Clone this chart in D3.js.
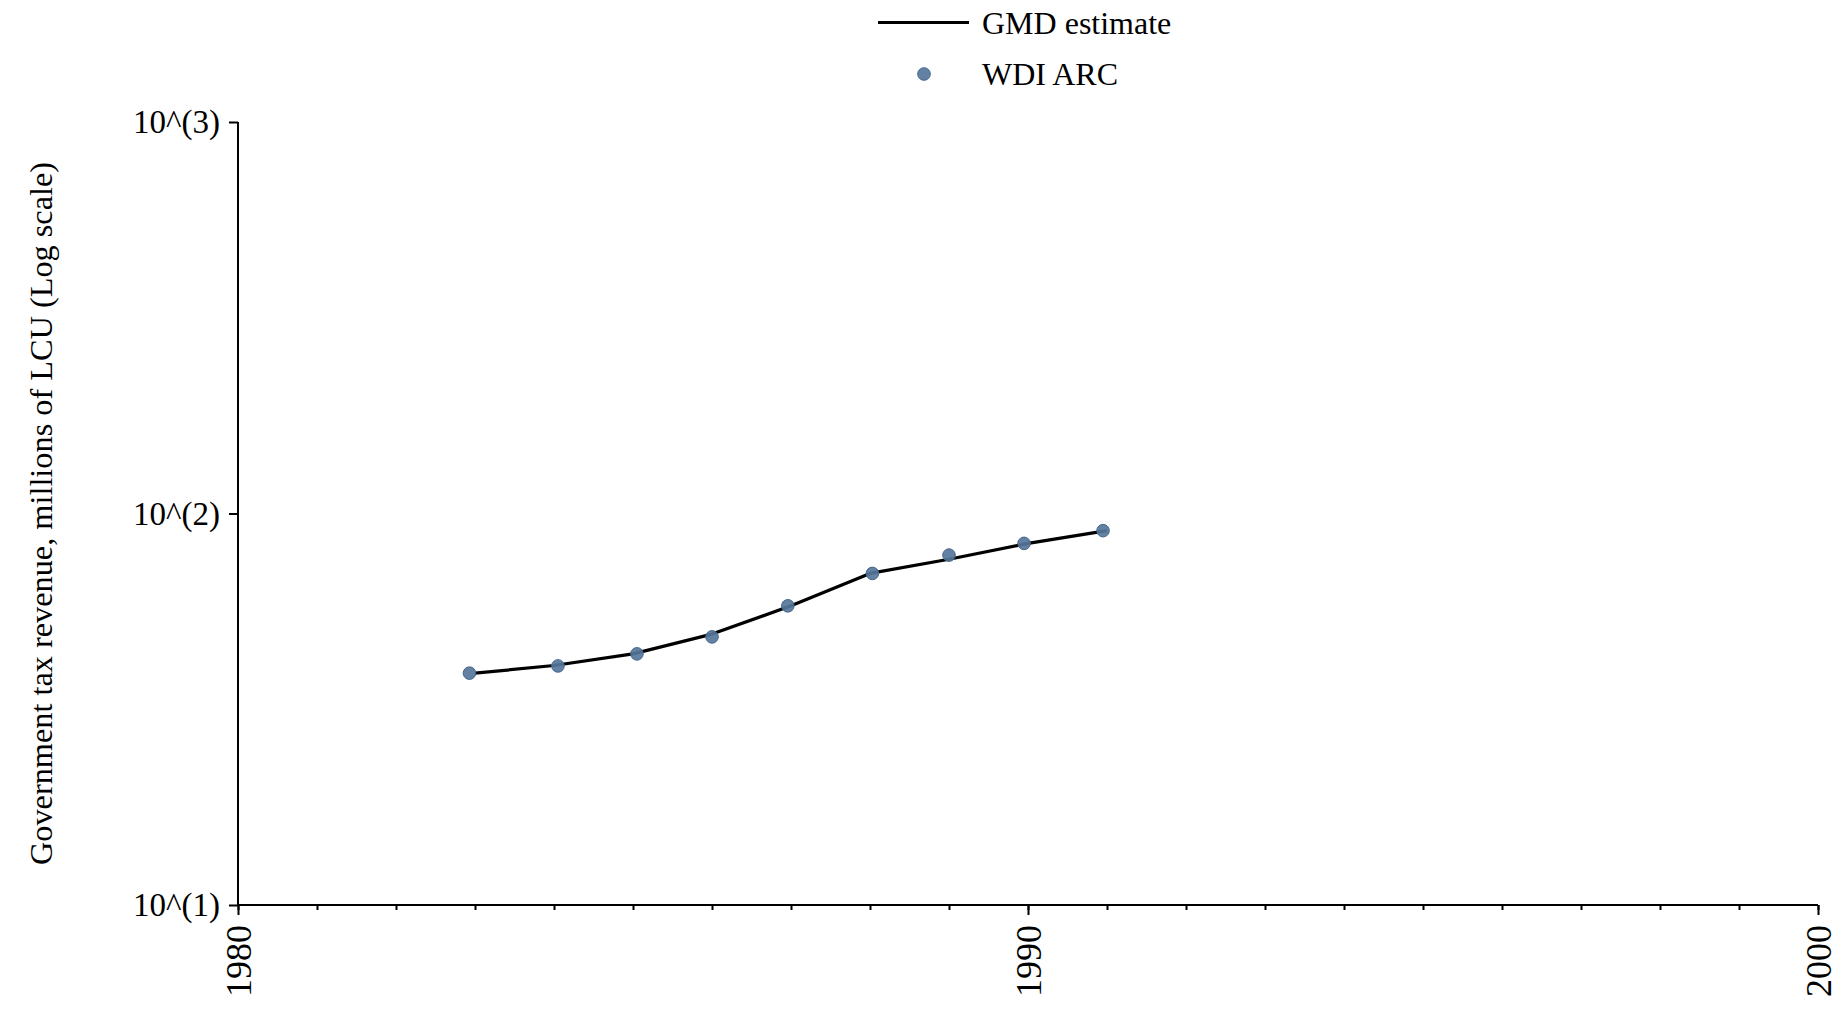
<!DOCTYPE html>
<html>
<head>
<meta charset="utf-8">
<script src="https://cdn.jsdelivr.net/npm/d3@7"></script>
<style>
  html, body { margin: 0; padding: 0; background: #fff; }
  svg { display: block; }
  text { font-family: "Liberation Serif", "Times New Roman", serif; fill: #000; }
</style>
</head>
<body>
<svg id="chart" width="1845" height="1010"></svg>
<script>
// ---- data ----
const gmdYears = [1983, 1984, 1985, 1986, 1987, 1988, 1989, 1990, 1991];
const gmdValues = [39.1, 40.9, 43.8, 49.2, 58.1, 70.3, 76.4, 83.9, 90.4];
const wdiYears = [1982.93, 1984.05, 1985.05, 1986.0, 1986.96, 1988.03, 1989.0, 1989.95, 1990.95];
const wdiValues = [39.1, 40.8, 43.8, 48.4, 58.1, 70.3, 78.3, 83.9, 90.4];
const yTickValues = [10, 100, 1000];
const xMajorTicks = [1980, 1990, 2000];
const xMinorTicks = d3.range(1980, 2001, 1);
const legendLabels = ["GMD estimate", "WDI ARC"];
const yTitle = "Government tax revenue, millions of LCU (Log scale)";

// ---- layout ----
const svg = d3.select("#chart");
const mLeft = 238, mRight = 1818, mTop = 122, mBottom = 905;
const x = d3.scaleLinear().domain([1980, 2000]).range([mLeft, mRight]);
const y = d3.scaleLog().domain([10, 1000]).range([mBottom, mTop]);

const dotFill = "#56769a";
const dotStroke = "#46668a";

// y axis
const yAxis = svg.append("g").attr("transform", `translate(${mLeft},0)`)
  .call(d3.axisLeft(y).tickValues(yTickValues).tickSize(9).tickPadding(9)
    .tickFormat(d => "10^(" + Math.round(Math.log10(d)) + ")"));
yAxis.select(".domain").attr("stroke", "#000").attr("stroke-width", 2).attr("d", `M0,${mTop}V${mBottom}`);
yAxis.selectAll(".tick line").attr("stroke", "#000").attr("stroke-width", 2);
yAxis.selectAll(".tick text").style("font-size", "33px").attr("dy", "0.32em")
  .style("font-family", '"Liberation Serif", serif');

// x axis minor ticks
const xMinor = svg.append("g").attr("transform", `translate(0,${mBottom})`)
  .call(d3.axisBottom(x).tickValues(xMinorTicks).tickSize(5).tickFormat(""));
xMinor.select(".domain").attr("stroke", "#000").attr("stroke-width", 2).attr("d", `M${mLeft},0H${mRight}`);
xMinor.selectAll(".tick line").attr("stroke", "#000").attr("stroke-width", 2);

// x axis major ticks
const xMajor = svg.append("g").attr("transform", `translate(0,${mBottom})`)
  .call(d3.axisBottom(x).tickValues(xMajorTicks).tickSize(10).tickFormat(d3.format("d")));
xMajor.select(".domain").remove();
xMajor.selectAll(".tick line").attr("stroke", "#000").attr("stroke-width", 2);
xMajor.selectAll(".tick text")
  .style("font-size", "36px")
  .style("font-family", '"Liberation Serif", serif')
  .attr("text-anchor", "end")
  .attr("dy", "0.35em")
  .attr("x", 0).attr("y", 0)
  .attr("transform", "translate(0,20) rotate(-90)");

// y title
svg.append("text")
  .attr("transform", `translate(41,${(mTop + mBottom) / 2 + 0}) rotate(-90)`)
  .attr("text-anchor", "middle")
  .attr("dy", "0.35em")
  .style("font-size", "32.3px")
  .text(yTitle);

// line
const line = d3.line().x((d, i) => x(gmdYears[i])).y(d => y(d));
svg.append("path").datum(gmdValues)
  .attr("d", line)
  .attr("fill", "none")
  .attr("stroke", "#000")
  .attr("stroke-width", 3.2)
  .attr("stroke-linejoin", "round");

// dots
svg.append("g").selectAll("circle").data(wdiValues).join("circle")
  .attr("cx", (d, i) => x(wdiYears[i]))
  .attr("cy", d => y(d))
  .attr("r", 6.3)
  .attr("fill", dotFill)
  .attr("fill-opacity", 0.92)
  .attr("stroke", dotStroke)
  .attr("stroke-width", 1);

// legend
const lg = svg.append("g");
lg.append("line").attr("x1", 878).attr("x2", 969).attr("y1", 22.5).attr("y2", 22.5)
  .attr("stroke", "#000").attr("stroke-width", 3.2);
lg.append("text").attr("x", 982).attr("y", 34).style("font-size", "32px").text(legendLabels[0]);
lg.append("circle").attr("cx", 924).attr("cy", 74).attr("r", 6.3)
  .attr("fill", dotFill).attr("fill-opacity", 0.92).attr("stroke", dotStroke).attr("stroke-width", 1);
lg.append("text").attr("x", 982).attr("y", 85).style("font-size", "32px").text(legendLabels[1]);
</script>
</body>
</html>
